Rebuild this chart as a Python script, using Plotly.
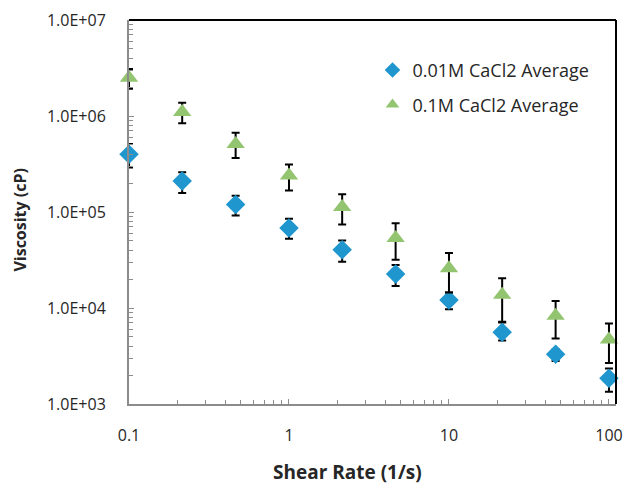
import plotly.graph_objects as go

shear_rate = [0.1, 0.215, 0.464, 1, 2.15, 4.64, 10, 21.5, 46.4, 100]

visc_001 = [4.0e5, 2.1e5, 1.2e5, 6.8e4, 4.05e4, 2.26e4, 1.21e4, 5.6e3, 3.3e3, 1.85e3]
err_001_plus = [1.1e5, 0.5e5, 0.28e5, 1.7e4, 1.0e4, 0.54e4, 0.24e4, 1.46e3, 0.4e3, 0.5e3]
err_001_minus = [1.1e5, 0.52e5, 0.28e5, 1.55e4, 1.01e4, 0.56e4, 0.24e4, 1.0e3, 0.5e3, 0.51e3]

visc_01 = [2.5e6, 1.1e6, 5.1e5, 2.4e5, 1.13e5, 5.35e4, 2.59e4, 1.37e4, 8.3e3, 4.7e3]
err_01_plus = [0.58e6, 0.27e6, 1.6e5, 0.72e5, 0.4e5, 2.3e4, 1.14e4, 0.67e4, 3.5e3, 2.2e3]
err_01_minus = [0.58e6, 0.26e6, 1.44e5, 0.73e5, 0.39e5, 2.17e4, 1.14e4, 0.65e4, 3.5e3, 2.03e3]

y_tickvals = [1e3, 1e4, 1e5, 1e6, 1e7]
y_ticktext = ["1.0E+03", "1.0E+04", "1.0E+05", "1.0E+06", "1.0E+07"]
x_tickvals = [0.1, 1, 10, 100]
x_ticktext = ["0.1", "1", "10", "100"]

x_minor = [m * 10 ** e for e in (-1, 0, 1) for m in range(2, 10)]
y_minor = [m * 10 ** e for e in (3, 4, 5, 6) for m in range(2, 10)]

FONT = "Open Sans"
TXT = "#262626"
AX = "#8C8C8C"

fig = go.Figure()
fig.add_trace(go.Scatter(
    x=shear_rate, y=visc_001, mode="markers", name="0.01M CaCl2 Average",
    legendgroup="a", cliponaxis=False,
    marker=dict(symbol="diamond", size=15, color="#1F96CE"),
    error_y=dict(type="data", symmetric=False, array=err_001_plus, arrayminus=err_001_minus,
                 color="black", thickness=2, width=4),
))
fig.add_trace(go.Scatter(
    x=shear_rate, y=visc_01, mode="markers", name="0.1M CaCl2 Average",
    legendgroup="b", cliponaxis=False,
    marker=dict(symbol="triangle-up", size=16, color="#93C570"),
    error_y=dict(type="data", symmetric=False, array=err_01_plus, arrayminus=err_01_minus,
                 color="black", thickness=2, width=4),
))

fig.update_layout(
    width=624, height=486,
    margin=dict(l=129, r=8, t=20, b=82),
    paper_bgcolor="white", plot_bgcolor="white",
    font=dict(family=FONT, size=15, color=TXT),
    showlegend=True,
    legend=dict(x=0.50, y=0.917, xanchor="left", yanchor="top",
                bgcolor="rgba(0,0,0,0)", font=dict(size=18, color=TXT),
                tracegroupgap=8, traceorder="grouped", itemsizing="constant"),
    shapes=[
        dict(type="line", xref="paper", yref="paper", x0=0, x1=1, y0=1, y1=1,
             line=dict(color="black", width=2)),
        dict(type="line", xref="paper", yref="paper", x0=1, x1=1, y0=0, y1=1,
             line=dict(color="black", width=2)),
    ],
    annotations=[
        dict(text="<b>Shear Rate (1/s)</b>", xref="paper", yref="paper",
             x=0.448, y=-0.176, xanchor="center", yanchor="middle", showarrow=False,
             font=dict(size=19, family=FONT, color=TXT)),
        dict(text="<b>Viscosity (cP)</b>", xref="paper", yref="paper",
             x=-0.224, y=0.48, xanchor="center", yanchor="middle", showarrow=False,
             textangle=-90, font=dict(size=16, family=FONT, color=TXT)),
    ],
)

fig.update_xaxes(
    type="log", range=[-1, 2.044], automargin=False,
    tickmode="array", tickvals=x_tickvals, ticktext=x_ticktext,
    showgrid=False, zeroline=False,
    showline=True, linecolor=AX, linewidth=2,
    ticks="inside", ticklen=5, tickcolor=AX, tickwidth=1,
    minor=dict(tickmode="array", tickvals=x_minor, ticks="inside", ticklen=4,
               tickcolor=AX, tickwidth=1, showgrid=False),
    tickfont=dict(size=16, family=FONT, color=TXT),
    ticklabelstandoff=16,
)
fig.update_yaxes(
    type="log", range=[3, 7], automargin=False,
    tickmode="array", tickvals=y_tickvals, ticktext=y_ticktext,
    showgrid=False, zeroline=False,
    showline=True, linecolor=AX, linewidth=2,
    ticks="inside", ticklen=5, tickcolor=AX, tickwidth=1,
    minor=dict(tickmode="array", tickvals=y_minor, ticks="inside", ticklen=4,
               tickcolor=AX, tickwidth=1, showgrid=False),
    tickfont=dict(size=16, family=FONT, color=TXT),
    ticklabelstandoff=18,
)

fig.write_html("out.html", config={"displayModeBar": False},
               post_script="document.body.style.margin='0';")
